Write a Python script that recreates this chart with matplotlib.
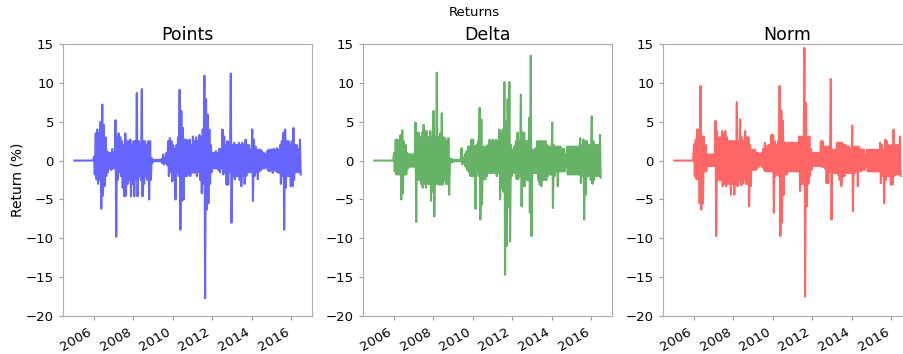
import matplotlib
matplotlib.use("Agg")
import matplotlib.pyplot as plt
import matplotlib.dates as mdates
import numpy as np
import pandas as pd

# monthly high / low of the daily returns (%), Jan 2005 .. Jun 2016
flat05 = [0.0] * 12

points_hi = flat05 + [
    0.5, 3.5, 4.0, 3.5, 5.0, 7.2, 4.6, 3.0, 1.2, 1.0, 1.0, 1.5,
    1.0, 5.2, 3.0, 3.5, 3.0, 2.5, 2.0, 3.5, 2.5, 2.5, 2.7, 2.0,
    2.5, 2.5, 8.7, 2.5, 2.0, 9.2, 2.5, 2.5, 2.0, 2.5, 2.5, 0.3,
    0.1, 0.1, 0.1, 0.1, 0.1, 0.2, 0.8, 0.4, 1.0, 2.5, 2.9, 2.5,
    2.0, 1.5, 2.0, 3.0, 9.1, 6.4, 4.2, 2.7, 2.7, 2.5, 2.7, 2.0,
    3.1, 2.5, 3.0, 2.5, 3.3, 3.0, 4.0, 10.9, 7.9, 5.9, 4.0, 2.0,
    1.0, 1.0, 1.2, 1.0, 1.5, 1.5, 4.0, 3.1, 2.0, 2.5, 2.0, 11.2,
    2.0, 2.3, 2.0, 2.0, 2.3, 2.0, 2.3, 2.0, 2.7, 2.0, 2.0, 1.5,
    4.0, 2.7, 1.8, 1.4, 1.4, 1.4, 1.2, 1.0, 0.8, 1.2, 1.4, 1.4,
    1.4, 1.5, 1.4, 1.6, 1.4, 2.0, 2.5, 3.6, 4.0, 2.5, 2.5, 2.0,
    2.5, 4.2, 2.0, 2.0, 1.5, 2.7]
points_lo = flat05 + [
    -1.8, -2.4, -3.0, -2.5, -6.2, -4.5, -3.3, -2.0, -1.5, -1.0, -1.2, -1.0,
    -1.0, -9.8, -2.5, -1.5, -2.0, -3.5, -4.6, -4.5, -3.0, -2.5, -4.6, -3.0,
    -4.6, -2.5, -4.6, -2.0, -2.5, -4.6, -3.0, -2.0, -2.5, -5.0, -2.5, -0.3,
    -0.1, -0.1, -0.1, -0.1, -0.1, -0.3, -0.5, -0.3, -0.6, -2.0, -1.5, -2.7,
    -2.5, -5.0, -1.5, -2.0, -8.9, -5.2, -5.0, -2.0, -2.0, -1.8, -2.0, -1.5,
    -1.6, -1.5, -2.0, -1.5, -2.5, -4.2, -3.0, -17.7, -6.3, -5.5, -3.0, -1.5,
    -1.0, -1.0, -1.0, -1.2, -1.5, -1.0, -1.8, -1.5, -3.1, -3.1, -1.5, -8.0,
    -2.0, -2.4, -2.0, -2.0, -2.5, -3.3, -2.0, -3.0, -2.0, -1.5, -1.5, -1.5,
    -5.2, -2.0, -1.5, -2.4, -1.4, -1.2, -1.0, -1.0, -0.8, -1.2, -1.4, -1.2,
    -1.6, -1.2, -1.4, -1.5, -1.6, -3.0, -2.0, -8.9, -3.5, -2.0, -2.0, -3.3,
    -3.3, -2.5, -1.5, -1.5, -1.5, -1.8]

delta_hi = flat05 + [
    1.0, 2.7, 2.7, 2.7, 3.3, 3.9, 2.5, 2.0, 1.0, 0.8, 0.8, 0.8,
    0.8, 4.9, 3.6, 3.6, 3.0, 3.6, 4.6, 3.8, 3.8, 3.0, 3.8, 3.0,
    6.4, 3.0, 11.3, 3.0, 3.5, 6.1, 3.0, 2.9, 2.5, 2.9, 0.3, 0.2,
    0.1, 0.1, 0.1, 0.1, 0.1, 1.6, 0.3, 0.8, 1.2, 1.8, 1.8, 2.7,
    2.7, 1.8, 2.0, 2.5, 6.8, 5.3, 1.8, 1.8, 1.8, 2.0, 2.7, 2.5,
    2.7, 2.5, 2.7, 2.5, 4.0, 3.5, 4.0, 10.1, 5.0, 7.9, 10.1, 2.0,
    1.4, 1.8, 2.5, 3.6, 2.5, 8.5, 3.6, 3.6, 2.5, 2.5, 5.5, 13.5,
    1.4, 1.4, 1.6, 2.5, 2.5, 2.5, 2.5, 2.5, 2.5, 2.0, 1.8, 1.8,
    4.9, 2.0, 1.8, 1.8, 1.8, 1.8, 1.5, 1.5, 0.8, 1.8, 1.8, 1.8,
    1.8, 1.8, 1.8, 1.8, 1.8, 2.9, 2.0, 2.7, 2.5, 2.5, 2.0, 2.0,
    5.7, 2.5, 2.0, 2.0, 2.0, 3.3]
delta_lo = flat05 + [
    -1.4, -1.8, -1.8, -1.8, -5.0, -4.2, -1.8, -1.8, -1.0, -0.8, -0.8, -0.8,
    -0.8, -7.9, -2.5, -2.5, -3.0, -3.5, -3.0, -3.5, -3.0, -3.0, -5.2, -4.0,
    -7.2, -3.0, -3.0, -3.1, -3.1, -3.1, -2.5, -3.0, -3.0, -4.4, -0.3, -0.2,
    -0.1, -0.1, -0.1, -0.1, -0.1, -0.5, -0.3, -0.8, -1.2, -1.5, -2.0, -2.0,
    -2.0, -6.2, -1.5, -2.0, -7.6, -5.7, -2.4, -2.4, -2.0, -1.6, -1.6, -1.6,
    -1.6, -1.6, -2.0, -1.6, -5.0, -3.5, -4.0, -14.7, -11.0, -6.0, -10.4, -2.0,
    -1.6, -1.6, -2.4, -2.4, -2.0, -5.9, -3.3, -3.3, -2.5, -2.5, -6.7, -9.7,
    -1.6, -1.6, -1.6, -2.5, -3.1, -3.3, -2.5, -2.5, -2.5, -2.0, -1.8, -1.8,
    -6.1, -2.0, -1.4, -3.3, -1.4, -1.4, -1.4, -1.4, -0.8, -1.8, -1.8, -1.8,
    -1.8, -1.8, -1.8, -1.8, -1.8, -2.9, -2.0, -7.6, -4.4, -2.0, -2.0, -2.5,
    -3.0, -2.5, -2.0, -2.0, -2.0, -2.2]

norm_hi = flat05 + [
    2.1, 2.7, 4.0, 4.0, 9.6, 3.1, 3.1, 2.0, 0.8, 0.8, 0.8, 0.8,
    0.8, 5.1, 3.8, 3.0, 3.0, 3.8, 3.5, 3.8, 3.0, 2.5, 2.5, 2.5,
    2.5, 2.5, 7.5, 2.5, 5.3, 3.0, 2.5, 3.8, 3.0, 3.0, 2.0, 1.4,
    1.4, 1.4, 1.0, 1.0, 0.8, 1.0, 1.5, 2.3, 1.8, 2.0, 2.0, 3.3,
    3.3, 2.5, 2.0, 2.5, 9.6, 6.4, 5.1, 2.3, 2.3, 2.3, 2.3, 2.3,
    2.3, 2.3, 2.3, 2.3, 3.1, 3.1, 3.0, 14.5, 7.4, 3.0, 3.1, 1.5,
    1.0, 1.0, 1.0, 1.0, 1.0, 2.5, 2.5, 1.8, 1.8, 1.8, 1.8, 10.5,
    1.4, 1.4, 1.4, 2.3, 2.3, 2.3, 2.3, 2.0, 2.0, 1.8, 1.8, 1.5,
    4.5, 1.8, 1.8, 1.8, 1.8, 1.5, 1.4, 1.4, 0.8, 1.4, 1.4, 1.4,
    1.4, 1.4, 1.4, 1.4, 1.4, 2.3, 2.0, 1.4, 2.7, 2.5, 2.0, 1.8,
    2.0, 4.0, 2.0, 2.0, 2.0, 3.1]
norm_lo = flat05 + [
    -2.0, -2.4, -2.4, -5.5, -6.3, -5.5, -1.4, -1.4, -0.7, -0.7, -0.7, -0.7,
    -0.7, -9.7, -2.5, -2.5, -2.5, -3.3, -3.0, -3.3, -3.0, -3.0, -4.4, -3.0,
    -4.4, -3.0, -3.3, -2.5, -3.2, -3.0, -2.5, -3.0, -3.0, -5.9, -3.3, -1.2,
    -1.2, -1.2, -1.0, -0.8, -0.6, -0.8, -1.2, -1.4, -1.4, -1.4, -1.4, -1.4,
    -6.7, -2.0, -1.5, -2.0, -9.7, -8.0, -4.4, -1.8, -1.8, -1.4, -1.4, -1.4,
    -1.4, -1.4, -1.4, -1.4, -3.9, -3.0, -3.0, -17.5, -5.9, -3.0, -2.0, -1.2,
    -0.7, -0.7, -0.7, -0.7, -0.7, -0.8, -0.8, -1.0, -2.9, -2.9, -1.5, -7.6,
    -1.6, -1.6, -1.6, -1.8, -2.5, -3.3, -2.0, -2.0, -1.6, -1.6, -1.6, -1.6,
    -6.5, -1.6, -1.4, -3.3, -1.4, -1.4, -1.2, -1.2, -0.8, -1.4, -1.4, -1.4,
    -1.4, -1.4, -1.4, -1.4, -1.4, -2.9, -2.0, -5.5, -2.5, -2.0, -2.0, -3.1,
    -3.1, -2.0, -1.8, -1.8, -1.8, -2.0]

titles = ["Points", "Delta", "Norm"]
colors = ["b", "g", "r"]

months = pd.date_range("2005-01-01", periods=len(points_hi), freq="MS")


def zigzag(hi, lo):
    # high in the first half of the month, low in the second half
    t = []
    v = []
    for m, h, l in zip(months, hi, lo):
        t.append(m + pd.Timedelta(days=8))
        v.append(h)
        t.append(m + pd.Timedelta(days=21))
        v.append(l)
    return t, v


fig = plt.figure(figsize=(9.04, 3.54), dpi=100)
fig.text(474 / 904, 1 - 13 / 354, "Returns", ha="center", va="center", fontsize=9.5)

series = [(points_hi, points_lo), (delta_hi, delta_lo), (norm_hi, norm_lo)]
for i, ((hi, lo), title, c) in enumerate(zip(series, titles, colors)):
    ax = fig.add_axes([(63 + 300 * i) / 904, 38 / 354, 249 / 904, 272 / 354])
    t, v = zigzag(hi, lo)
    ax.plot(t, v, color=c, alpha=0.6, lw=1.5)
    ax.set_ylim(-20, 15)
    ax.set_title(title, fontsize=12.5, pad=3)
    ax.xaxis.set_major_locator(mdates.YearLocator(2))
    ax.xaxis.set_major_formatter(mdates.DateFormatter("%Y"))
    ax.tick_params(labelsize=9.5, color="#999999", length=3)
    for lab in ax.get_xticklabels():
        lab.set_rotation(30)
        lab.set_ha("right")
    for s in ax.spines.values():
        s.set_color("#aaaaaa")
    if i == 0:
        ax.set_ylabel("Return (%)", fontsize=10)
        ax.yaxis.set_label_coords(-0.153, 0.5)

fig.savefig("out.png", dpi=100)
